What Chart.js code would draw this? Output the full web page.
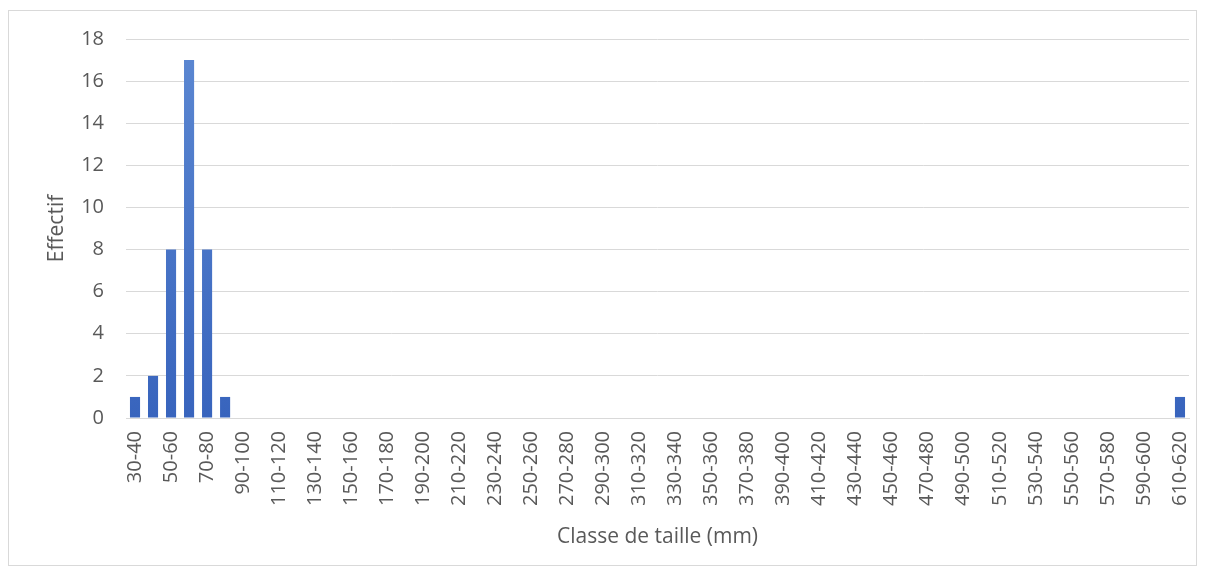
<!DOCTYPE html>
<html>
<head>
<meta charset="utf-8">
<script src="https://cdn.jsdelivr.net/npm/chart.js@4.4.1/dist/chart.umd.min.js"></script>
<style>
  html, body { margin: 0; padding: 0; background: #ffffff; }
  #wrap { position: relative; width: 1205px; height: 576px; }
</style>
</head>
<body>
<div id="wrap"><canvas id="chart" width="1205" height="576"></canvas></div>
<script>
// Size classes, 10 mm wide, from 30 to 620 mm
const classes = [
  "30-40","40-50","50-60","60-70","70-80","80-90","90-100","100-110","110-120","120-130",
  "130-140","140-150","150-160","160-170","170-180","180-190","190-200","200-210","210-220","220-230",
  "230-240","240-250","250-260","260-270","270-280","280-290","290-300","300-310","310-320","320-330",
  "330-340","340-350","350-360","360-370","370-380","380-390","390-400","400-410","410-420","420-430",
  "430-440","440-450","450-460","460-470","470-480","480-490","490-500","500-510","510-520","520-530",
  "530-540","540-550","550-560","560-570","570-580","580-590","590-600","600-610","610-620"
];
// Count per class
const effectif = [
  1, 2, 8, 17, 8, 1, 0, 0, 0, 0,
  0, 0, 0, 0, 0, 0, 0, 0, 0, 0,
  0, 0, 0, 0, 0, 0, 0, 0, 0, 0,
  0, 0, 0, 0, 0, 0, 0, 0, 0, 0,
  0, 0, 0, 0, 0, 0, 0, 0, 0, 0,
  0, 0, 0, 0, 0, 0, 0, 0, 1
];
const yTicks = [0, 2, 4, 6, 8, 10, 12, 14, 16, 18];

const FONT = "'Open Sans', 'Liberation Sans', sans-serif";
const TEXT = "#595959";

// Light frame around the whole chart
const framePlugin = {
  id: "frame",
  beforeDraw(chart) {
    const ctx = chart.ctx;
    ctx.save();
    ctx.fillStyle = "#ffffff";
    ctx.fillRect(0, 0, chart.width, chart.height);
    ctx.strokeStyle = "#d9d9d9";
    ctx.lineWidth = 1;
    ctx.strokeRect(8.5, 10.5, 1188, 555);
    ctx.restore();
  }
};

function barFill(context) {
  const chart = context.chart;
  const area = chart.chartArea;
  if (!area) return "#4472c4";
  const g = chart.ctx.createLinearGradient(0, area.top, 0, area.bottom);
  g.addColorStop(0, "#5c88d2");
  g.addColorStop(1, "#3864bd");
  return g;
}

new Chart(document.getElementById("chart"), {
  type: "bar",
  data: {
    labels: classes,
    datasets: [{
      label: "Effectif",
      data: effectif,
      backgroundColor: barFill,
      borderWidth: 0,
      barPercentage: 0.56,
      categoryPercentage: 1.0
    }]
  },
  options: {
    responsive: false,
    animation: false,
    layout: { padding: { top: 39, right: 16, left: 44, bottom: 20 } },
    plugins: {
      legend: { display: false },
      tooltip: { enabled: false }
    },
    scales: {
      x: {
        afterFit(scale) {
          scale.height = 138;
          scale.paddingLeft = 0;
          scale.paddingRight = 0;
        },
        grid: { display: false, drawTicks: false },
        border: { display: true, color: "#d9d9d9", width: 1 },
        ticks: {
          autoSkip: false,
          maxRotation: 90,
          minRotation: 90,
          padding: 13,
          color: TEXT,
          font: { family: FONT, size: 20 },
          callback: function (v, i) { return i % 2 === 0 ? classes[i] : ""; }
        },
        title: {
          display: true,
          text: "Classe de taille (mm)",
          color: TEXT,
          font: { family: FONT, size: 21 },
          padding: { top: 0, bottom: 6 }
        }
      },
      y: {
        min: 0,
        max: 18,
        afterFit(scale) {
          scale.width = 82;
          scale.paddingTop = 0;
          scale.paddingBottom = 0;
        },
        afterBuildTicks(scale) { scale.ticks = yTicks.map(v => ({ value: v })); },
        grid: { color: "#d9d9d9", drawTicks: false },
        border: { display: false },
        ticks: {
          padding: 22,
          color: TEXT,
          font: { family: FONT, size: 20 }
        },
        title: {
          display: true,
          text: "Effectif",
          color: TEXT,
          font: { family: FONT, size: 21 },
          padding: { top: 0, bottom: 0 }
        }
      }
    }
  },
  plugins: [framePlugin]
});
</script>
</body>
</html>
